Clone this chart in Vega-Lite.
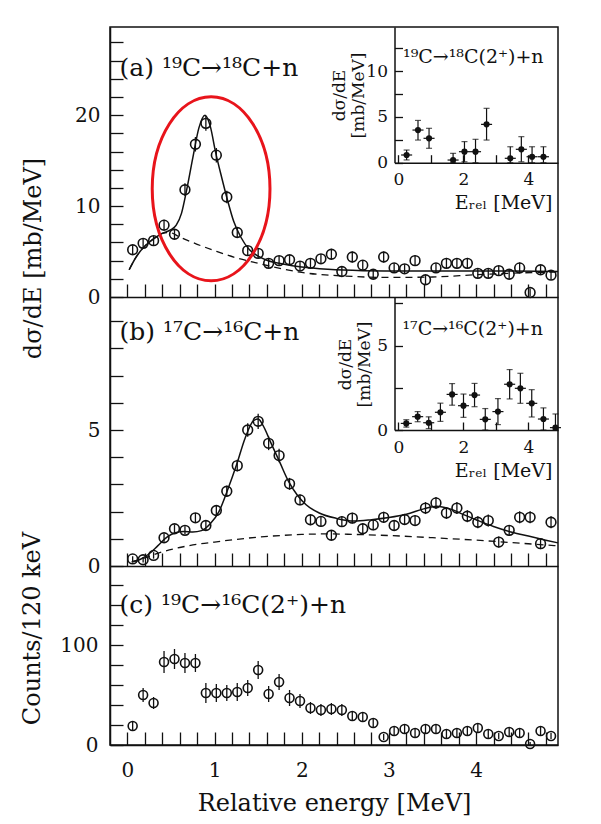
{
  "$schema": "https://vega.github.io/schema/vega-lite/v6.json",
  "autosize": {"type": "none"},
  "width": 448,
  "height": 718,
  "padding": {"left": 110, "top": 27, "right": 43, "bottom": 79},
  "background": "white",
  "config": {
    "view": {"stroke": "#111", "strokeWidth": 1.5},
    "axis": {"labelFont": "DejaVu Serif", "titleFont": "DejaVu Serif", "labelColor": "#111", "titleColor": "#111", "titleFontWeight": "normal", "domainColor": "#111", "tickColor": "#111", "domainWidth": 1.5, "tickWidth": 1.3, "grid": false, "labelOverlap": false, "labelFlush": false, "labelFontSize": 20, "titleFontSize": 24, "ticks": true, "tickCount": 100, "zindex": 1},
    "text": {"font": "DejaVu Serif", "color": "#111"}
  },
  "datasets": {
    "a_pts": [
      {"E":0.06,"v":5.2,"err":0.5},{"E":0.18,"v":5.9,"err":0.5},{"E":0.30,"v":6.2,"err":0.5},{"E":0.42,"v":7.9,"err":0.6},
      {"E":0.54,"v":6.9,"err":0.6},{"E":0.66,"v":11.8,"err":0.7},{"E":0.78,"v":16.8,"err":0.8},{"E":0.90,"v":19.1,"err":0.8},
      {"E":1.02,"v":15.6,"err":0.8},{"E":1.14,"v":11.0,"err":0.7},{"E":1.26,"v":7.1,"err":0.6},{"E":1.38,"v":5.1,"err":0.5},
      {"E":1.50,"v":4.8,"err":0.5},{"E":1.62,"v":3.7,"err":0.5},{"E":1.74,"v":4.0,"err":0.5},{"E":1.86,"v":4.1,"err":0.5},
      {"E":1.98,"v":3.4,"err":0.5},{"E":2.10,"v":3.7,"err":0.5},{"E":2.22,"v":4.2,"err":0.5},{"E":2.34,"v":4.7,"err":0.6},
      {"E":2.46,"v":2.8,"err":0.5},{"E":2.58,"v":4.4,"err":0.6},{"E":2.70,"v":3.5,"err":0.5},{"E":2.82,"v":2.5,"err":0.5},
      {"E":2.94,"v":4.4,"err":0.6},{"E":3.06,"v":3.2,"err":0.5},{"E":3.18,"v":3.1,"err":0.5},{"E":3.30,"v":4.0,"err":0.6},
      {"E":3.42,"v":1.9,"err":0.5},{"E":3.54,"v":3.2,"err":0.5},{"E":3.66,"v":3.7,"err":0.6},{"E":3.78,"v":3.7,"err":0.6},
      {"E":3.90,"v":3.7,"err":0.6},{"E":4.02,"v":2.6,"err":0.5},{"E":4.14,"v":2.6,"err":0.5},{"E":4.26,"v":2.9,"err":0.5},
      {"E":4.38,"v":2.5,"err":0.5},{"E":4.50,"v":3.2,"err":0.6},{"E":4.62,"v":0.5,"err":0.4},{"E":4.74,"v":3.0,"err":0.5},
      {"E":4.86,"v":2.4,"err":0.5}
    ],
    "a_fit": [
      {"E":0.02,"v":3.0},{"E":0.1,"v":4.4},{"E":0.2,"v":5.6},{"E":0.3,"v":6.4},{"E":0.4,"v":7.0},{"E":0.5,"v":7.4},
      {"E":0.56,"v":7.9},{"E":0.62,"v":9.2},{"E":0.68,"v":11.8},{"E":0.75,"v":15.3},{"E":0.82,"v":18.6},{"E":0.89,"v":20.0},
      {"E":0.95,"v":18.8},{"E":1.01,"v":16.0},{"E":1.08,"v":13.2},{"E":1.15,"v":10.6},{"E":1.22,"v":8.3},{"E":1.3,"v":6.6},
      {"E":1.4,"v":5.2},{"E":1.5,"v":4.5},{"E":1.6,"v":4.05},{"E":1.8,"v":3.6},{"E":2.0,"v":3.3},{"E":2.3,"v":3.05},
      {"E":2.7,"v":2.9},{"E":3.2,"v":2.85},{"E":3.8,"v":2.85},{"E":4.4,"v":2.85},{"E":4.94,"v":2.8}
    ],
    "a_dash": [
      {"E":0.02,"v":3.0},{"E":0.1,"v":4.4},{"E":0.2,"v":5.6},{"E":0.3,"v":6.4},{"E":0.4,"v":7.0},{"E":0.48,"v":7.1},
      {"E":0.6,"v":6.6},{"E":0.8,"v":5.8},{"E":1.0,"v":5.1},{"E":1.25,"v":4.3},{"E":1.5,"v":3.7},{"E":1.75,"v":3.15},
      {"E":2.0,"v":2.7},{"E":2.5,"v":2.3},{"E":3.0,"v":2.15},{"E":3.5,"v":2.2},{"E":4.0,"v":2.45},{"E":4.5,"v":2.65},{"E":4.94,"v":2.75}
    ],
    "a_ring": [{"E":0.96,"v":11.9}],
    "a_label": [{"E":-0.09,"v":25.2,"t":"(a) ¹⁹C→¹⁸C+n"}],
    "ai_pts": [
      {"E":0.25,"v":0.84,"lo":0.3,"hi":1.38,"xe":0.17},{"E":0.60,"v":3.56,"lo":2.47,"hi":4.61,"xe":0.17},
      {"E":0.94,"v":2.66,"lo":1.57,"hi":3.75,"xe":0.17},{"E":1.68,"v":0.29,"lo":0.0,"hi":1.02,"xe":0.17},
      {"E":2.03,"v":1.2,"lo":0.1,"hi":2.3,"xe":0.17},{"E":2.37,"v":1.2,"lo":0.0,"hi":2.55,"xe":0.17},
      {"E":2.71,"v":4.18,"lo":2.47,"hi":5.93,"xe":0.17},{"E":3.44,"v":0.48,"lo":0.0,"hi":1.74,"xe":0.17},
      {"E":3.78,"v":1.46,"lo":0.1,"hi":2.84,"xe":0.17},{"E":4.11,"v":0.65,"lo":0.0,"hi":1.74,"xe":0.17},
      {"E":4.46,"v":0.65,"lo":0.0,"hi":1.74,"xe":0.17}
    ],
    "ai_label": [{"E":0.14,"v":11.5,"t":"¹⁹C→¹⁸C(2⁺)+n"}],
    "b_pts": [
      {"E":0.06,"v":0.26,"err":0.1},{"E":0.18,"v":0.23,"err":0.1},{"E":0.30,"v":0.39,"err":0.12},{"E":0.42,"v":1.04,"err":0.15},
      {"E":0.54,"v":1.37,"err":0.15},{"E":0.66,"v":1.31,"err":0.15},{"E":0.78,"v":1.77,"err":0.18},{"E":0.90,"v":1.49,"err":0.18},
      {"E":1.02,"v":2.04,"err":0.2},{"E":1.14,"v":2.75,"err":0.2},{"E":1.26,"v":3.69,"err":0.22},{"E":1.38,"v":5.0,"err":0.25},
      {"E":1.50,"v":5.32,"err":0.28},{"E":1.62,"v":4.51,"err":0.25},{"E":1.74,"v":4.06,"err":0.25},{"E":1.86,"v":3.02,"err":0.22},
      {"E":1.98,"v":2.43,"err":0.2},{"E":2.10,"v":1.70,"err":0.2},{"E":2.22,"v":1.64,"err":0.2},{"E":2.34,"v":1.13,"err":0.18},
      {"E":2.46,"v":1.63,"err":0.2},{"E":2.58,"v":1.76,"err":0.2},{"E":2.70,"v":1.37,"err":0.2},{"E":2.82,"v":1.51,"err":0.2},
      {"E":2.94,"v":1.79,"err":0.2},{"E":3.06,"v":1.49,"err":0.2},{"E":3.18,"v":1.71,"err":0.2},{"E":3.30,"v":1.67,"err":0.2},
      {"E":3.42,"v":2.13,"err":0.22},{"E":3.54,"v":2.32,"err":0.22},{"E":3.66,"v":1.95,"err":0.22},{"E":3.78,"v":2.13,"err":0.22},
      {"E":3.90,"v":1.83,"err":0.22},{"E":4.02,"v":1.61,"err":0.22},{"E":4.14,"v":1.67,"err":0.22},{"E":4.26,"v":0.88,"err":0.2},
      {"E":4.38,"v":1.31,"err":0.2},{"E":4.50,"v":1.79,"err":0.22},{"E":4.62,"v":1.79,"err":0.22},{"E":4.74,"v":0.82,"err":0.2},
      {"E":4.86,"v":1.61,"err":0.22}
    ],
    "b_fit": [
      {"E":0.05,"v":0.15},{"E":0.15,"v":0.25},{"E":0.25,"v":0.45},{"E":0.35,"v":0.75},{"E":0.45,"v":1.05},{"E":0.55,"v":1.22},
      {"E":0.65,"v":1.27},{"E":0.75,"v":1.25},{"E":0.85,"v":1.3},{"E":0.95,"v":1.55},{"E":1.05,"v":2.0},{"E":1.15,"v":2.8},
      {"E":1.25,"v":3.7},{"E":1.35,"v":4.7},{"E":1.45,"v":5.35},{"E":1.5,"v":5.4},{"E":1.55,"v":5.2},{"E":1.65,"v":4.5},
      {"E":1.75,"v":3.8},{"E":1.85,"v":3.1},{"E":1.95,"v":2.6},{"E":2.05,"v":2.25},{"E":2.2,"v":1.95},{"E":2.4,"v":1.75},
      {"E":2.6,"v":1.65},{"E":2.8,"v":1.7},{"E":3.0,"v":1.78},{"E":3.2,"v":1.9},{"E":3.4,"v":2.1},{"E":3.55,"v":2.2},
      {"E":3.7,"v":2.1},{"E":3.85,"v":1.9},{"E":4.0,"v":1.7},{"E":4.2,"v":1.45},{"E":4.4,"v":1.25},{"E":4.6,"v":1.1},
      {"E":4.8,"v":0.95},{"E":4.94,"v":0.85}
    ],
    "b_dash": [
      {"E":0.05,"v":0.15},{"E":0.2,"v":0.3},{"E":0.4,"v":0.52},{"E":0.6,"v":0.68},{"E":0.8,"v":0.8},{"E":1.0,"v":0.88},
      {"E":1.25,"v":0.98},{"E":1.5,"v":1.06},{"E":1.75,"v":1.12},{"E":2.0,"v":1.16},{"E":2.3,"v":1.18},{"E":2.6,"v":1.16},
      {"E":3.0,"v":1.12},{"E":3.5,"v":1.04},{"E":4.0,"v":0.95},{"E":4.5,"v":0.84},{"E":4.94,"v":0.74}
    ],
    "b_label": [{"E":-0.09,"v":8.62,"t":"(b) ¹⁷C→¹⁶C+n"}],
    "bi_pts": [
      {"E":0.24,"v":0.39,"lo":0.17,"hi":0.61,"xe":0.17},{"E":0.59,"v":0.79,"lo":0.49,"hi":1.09,"xe":0.17},
      {"E":0.93,"v":0.43,"lo":0.08,"hi":0.78,"xe":0.17},{"E":1.29,"v":1.05,"lo":0.51,"hi":1.59,"xe":0.17},
      {"E":1.65,"v":2.11,"lo":1.47,"hi":2.75,"xe":0.17},{"E":2.0,"v":1.44,"lo":0.75,"hi":2.13,"xe":0.17},
      {"E":2.34,"v":2.07,"lo":1.38,"hi":2.76,"xe":0.17},{"E":2.67,"v":0.63,"lo":0.0,"hi":1.27,"xe":0.17},
      {"E":3.06,"v":1.09,"lo":0.32,"hi":1.86,"xe":0.17},{"E":3.42,"v":2.71,"lo":1.84,"hi":3.58,"xe":0.17},
      {"E":3.75,"v":2.47,"lo":1.58,"hi":3.36,"xe":0.17},{"E":4.10,"v":1.58,"lo":0.77,"hi":2.39,"xe":0.17},
      {"E":4.46,"v":0.65,"lo":0.0,"hi":1.31,"xe":0.17},{"E":4.83,"v":0.14,"lo":0.0,"hi":0.95,"xe":0.17}
    ],
    "bi_label": [{"E":0.12,"v":6.0,"t":"¹⁷C→¹⁶C(2⁺)+n"}],
    "c_pts": [
      {"E":0.06,"v":19,"err":5},{"E":0.18,"v":50,"err":7},{"E":0.30,"v":42,"err":6},{"E":0.42,"v":83,"err":11},
      {"E":0.54,"v":86,"err":10},{"E":0.66,"v":82,"err":10},{"E":0.78,"v":82,"err":9},{"E":0.90,"v":52,"err":10},
      {"E":1.02,"v":52,"err":9},{"E":1.14,"v":52,"err":8},{"E":1.26,"v":53,"err":9},{"E":1.38,"v":57,"err":8},
      {"E":1.50,"v":75,"err":9},{"E":1.62,"v":51,"err":8},{"E":1.74,"v":63,"err":8},{"E":1.86,"v":47,"err":8},
      {"E":1.98,"v":44,"err":7},{"E":2.10,"v":37,"err":6},{"E":2.22,"v":35,"err":6},{"E":2.34,"v":36,"err":6},
      {"E":2.46,"v":35,"err":6},{"E":2.58,"v":29,"err":5},{"E":2.70,"v":28,"err":5},{"E":2.82,"v":22,"err":5},
      {"E":2.94,"v":8,"err":3},{"E":3.06,"v":14,"err":4},{"E":3.18,"v":16,"err":4},{"E":3.30,"v":12,"err":4},
      {"E":3.42,"v":16,"err":4},{"E":3.54,"v":16,"err":4},{"E":3.66,"v":11,"err":4},{"E":3.78,"v":12,"err":4},
      {"E":3.90,"v":14,"err":4},{"E":4.02,"v":17,"err":5},{"E":4.14,"v":11,"err":4},{"E":4.26,"v":9,"err":3},
      {"E":4.38,"v":13,"err":4},{"E":4.50,"v":12,"err":4},{"E":4.62,"v":1,"err":2},{"E":4.74,"v":14,"err":4},
      {"E":4.86,"v":9,"err":3}
    ],
    "c_label": [{"E":-0.09,"v":140,"t":"(c) ¹⁹C→¹⁶C(2⁺)+n"}]
  },
  "layer": [
    {
      "layer": [
        {"data": {"name": "a_dash"}, "mark": {"type": "line", "strokeDash": [7, 5], "color": "#111", "strokeWidth": 1.3, "interpolate": "monotone"},
         "encoding": {
           "x": {"field": "E", "type": "quantitative", "title": null, "scale": {"domain": [-0.2, 4.94], "nice": false, "zero": false},
                 "axis": {"orient": "bottom", "offset": -448, "values": [0,0.2,0.4,0.6,0.8,1,1.2,1.4,1.6,1.8,2,2.2,2.4,2.6,2.8,3,3.2,3.4,3.6,3.8,4,4.2,4.4,4.6,4.8], "labels": false, "labelOverlap": false, "tickCount": 100,
                          "tickSize": -13, "encode": {"ticks": {"update": {"y2": {"signal": "datum.value % 1 === 0 ? -13 : -6"}}}}}},
           "y": {"field": "v", "type": "quantitative", "title": "dσ/dE [mb/MeV]", "scale": {"domain": [0, 29.7], "range": [270, 0], "nice": false, "zero": false},
                 "axis": {"orient": "left", "values": [0,2,4,6,8,10,12,14,16,18,20,22,24,26,28], "labelExpr": "datum.value % 10 === 0 ? format(datum.value, 'd') : ''", "labelPadding": 23, "labelOverlap": false, "tickCount": 100,
                          "tickSize": -13, "encode": {"ticks": {"update": {"x2": {"signal": "datum.value % 10 === 0 ? 13 : 6"}}}},
                          "titleX": -77, "titleY": 231, "titleAngle": 270, "titleAlign": "center", "titleBaseline": "middle"}}
         }},
        {"data": {"name": "a_fit"}, "mark": {"type": "line", "color": "#111", "strokeWidth": 1.5, "interpolate": "monotone"},
         "encoding": {
           "x": {"field": "E", "type": "quantitative", "title": null, "scale": {"domain": [-0.2, 4.94], "nice": false, "zero": false}},
           "y": {"field": "v", "type": "quantitative", "title": "dσ/dE [mb/MeV]", "scale": {"domain": [0, 29.7], "range": [270, 0], "nice": false, "zero": false}}
         }},
        {"data": {"name": "a_pts"}, "mark": {"type": "errorbar", "color": "#111", "thickness": 1.3},
         "encoding": {
           "x": {"field": "E", "type": "quantitative", "title": null, "scale": {"domain": [-0.2, 4.94], "nice": false, "zero": false}},
           "y": {"field": "v", "type": "quantitative", "title": "dσ/dE [mb/MeV]", "scale": {"domain": [0, 29.7], "range": [270, 0], "nice": false, "zero": false}},
           "yError": {"field": "err"}
         }},
        {"data": {"name": "a_pts"}, "mark": {"type": "point", "shape": "circle", "filled": false, "size": 95, "color": "#111", "strokeWidth": 1.6, "opacity": 1},
         "encoding": {
           "x": {"field": "E", "type": "quantitative", "title": null, "scale": {"domain": [-0.2, 4.94], "nice": false, "zero": false}},
           "y": {"field": "v", "type": "quantitative", "title": "dσ/dE [mb/MeV]", "scale": {"domain": [0, 29.7], "range": [270, 0], "nice": false, "zero": false}}
         }},
        {"data": {"name": "a_ring"}, "mark": {"type": "point", "shape": "M -0.64 0 A 0.64 1 0 1 0 0.64 0 A 0.64 1 0 1 0 -0.64 0 Z", "filled": false, "size": 33856, "color": "#e8141b", "strokeWidth": 3, "opacity": 1},
         "encoding": {
           "x": {"field": "E", "type": "quantitative", "title": null, "scale": {"domain": [-0.2, 4.94], "nice": false, "zero": false}},
           "y": {"field": "v", "type": "quantitative", "title": "dσ/dE [mb/MeV]", "scale": {"domain": [0, 29.7], "range": [270, 0], "nice": false, "zero": false}}
         }},
        {"data": {"name": "a_label"}, "mark": {"type": "text", "align": "left", "baseline": "middle", "fontSize": 25},
         "encoding": {
           "x": {"field": "E", "type": "quantitative", "title": null, "scale": {"domain": [-0.2, 4.94], "nice": false, "zero": false}},
           "y": {"field": "v", "type": "quantitative", "title": "dσ/dE [mb/MeV]", "scale": {"domain": [0, 29.7], "range": [270, 0], "nice": false, "zero": false}},
           "text": {"field": "t"}
         }}
      ]
    },
    {
      "layer": [
        {"data": {"name": "ai_pts"}, "mark": {"type": "errorbar", "color": "#111", "thickness": 1.2, "ticks": true, "size": 6},
         "encoding": {
           "x": {"field": "E", "type": "quantitative", "title": "Eᵣₑₗ [MeV]", "scale": {"domain": [-0.123, 4.908], "range": [284.5, 448], "nice": false, "zero": false},
                 "axis": {"orient": "bottom", "offset": -582.3, "values": [0,1,2,3,4], "labelExpr": "datum.value % 2 === 0 ? format(datum.value, 'd') : ''", "labelFontSize": 17, "labelPadding": 17, "labelOverlap": false, "tickCount": 100,
                          "tickSize": -8, "encode": {"ticks": {"update": {"y2": {"signal": "datum.value % 2 === 0 ? -8 : -5"}}}},
                          "titleFontSize": 19, "titleX": 442, "titleY": 46, "titleAlign": "right", "titleBaseline": "alphabetic"}},
           "y": {"field": "lo", "type": "quantitative", "title": ["dσ/dE", "[mb/MeV]"], "scale": {"domain": [0, 14.8], "range": [135.7, 0], "nice": false, "zero": false},
                 "axis": {"orient": "left", "offset": -284.5, "values": [0,2.5,5,7.5,10,12.5], "labelExpr": "datum.value % 5 === 0 ? format(datum.value, 'd') : ''", "labelFontSize": 17, "labelPadding": 15, "labelOverlap": false, "tickCount": 100,
                          "tickSize": -8, "encode": {"ticks": {"update": {"x2": {"signal": "datum.value % 5 === 0 ? 8 : 5"}}}},
                          "titleFontSize": 17, "titleLineHeight": 19, "titleX": -55, "titleY": 68, "titleAngle": 270, "titleAlign": "center", "titleBaseline": "middle"}},
           "y2": {"field": "hi"}
         }},
        {"data": {"name": "ai_pts"}, "mark": {"type": "errorbar", "color": "#111", "thickness": 1.2},
         "encoding": {
           "x": {"field": "E", "type": "quantitative", "title": "Eᵣₑₗ [MeV]", "scale": {"domain": [-0.123, 4.908], "range": [284.5, 448], "nice": false, "zero": false}},
           "xError": {"field": "xe"},
           "y": {"field": "v", "type": "quantitative", "title": ["dσ/dE", "[mb/MeV]"], "scale": {"domain": [0, 14.8], "range": [135.7, 0], "nice": false, "zero": false}}
         }},
        {"data": {"name": "ai_pts"}, "mark": {"type": "point", "shape": "circle", "filled": true, "size": 38, "color": "#111", "opacity": 1},
         "encoding": {
           "x": {"field": "E", "type": "quantitative", "title": "Eᵣₑₗ [MeV]", "scale": {"domain": [-0.123, 4.908], "range": [284.5, 448], "nice": false, "zero": false}},
           "y": {"field": "v", "type": "quantitative", "title": ["dσ/dE", "[mb/MeV]"], "scale": {"domain": [0, 14.8], "range": [135.7, 0], "nice": false, "zero": false}}
         }},
        {"data": {"name": "ai_label"}, "mark": {"type": "text", "align": "left", "baseline": "middle", "fontSize": 19},
         "encoding": {
           "x": {"field": "E", "type": "quantitative", "title": "Eᵣₑₗ [MeV]", "scale": {"domain": [-0.123, 4.908], "range": [284.5, 448], "nice": false, "zero": false}},
           "y": {"field": "v", "type": "quantitative", "title": ["dσ/dE", "[mb/MeV]"], "scale": {"domain": [0, 14.8], "range": [135.7, 0], "nice": false, "zero": false}},
           "text": {"field": "t"}
         }}
      ]
    },
    {
      "layer": [
        {"data": {"name": "b_dash"}, "mark": {"type": "line", "strokeDash": [7, 5], "color": "#111", "strokeWidth": 1.3, "interpolate": "monotone"},
         "encoding": {
           "x": {"field": "E", "type": "quantitative", "title": null, "scale": {"domain": [-0.2, 4.94], "nice": false, "zero": false},
                 "axis": {"orient": "bottom", "offset": -179, "values": [0,0.2,0.4,0.6,0.8,1,1.2,1.4,1.6,1.8,2,2.2,2.4,2.6,2.8,3,3.2,3.4,3.6,3.8,4,4.2,4.4,4.6,4.8], "labels": false, "labelOverlap": false, "tickCount": 100,
                          "tickSize": -13, "encode": {"ticks": {"update": {"y2": {"signal": "datum.value % 1 === 0 ? -13 : -6"}}}}}},
           "y": {"field": "v", "type": "quantitative", "title": null, "scale": {"domain": [0, 9.89], "range": [539, 270], "nice": false, "zero": false},
                 "axis": {"orient": "left", "values": [0,1,2,3,4,5,6,7,8,9], "labelExpr": "datum.value % 5 === 0 ? format(datum.value, 'd') : ''", "labelPadding": 23, "labelOverlap": false, "tickCount": 100,
                          "tickSize": -13, "encode": {"ticks": {"update": {"x2": {"signal": "datum.value % 5 === 0 ? 13 : 6"}}}}}}
         }},
        {"data": {"name": "b_fit"}, "mark": {"type": "line", "color": "#111", "strokeWidth": 1.5, "interpolate": "monotone"},
         "encoding": {
           "x": {"field": "E", "type": "quantitative", "title": null, "scale": {"domain": [-0.2, 4.94], "nice": false, "zero": false}},
           "y": {"field": "v", "type": "quantitative", "title": null, "scale": {"domain": [0, 9.89], "range": [539, 270], "nice": false, "zero": false}}
         }},
        {"data": {"name": "b_pts"}, "mark": {"type": "errorbar", "color": "#111", "thickness": 1.3},
         "encoding": {
           "x": {"field": "E", "type": "quantitative", "title": null, "scale": {"domain": [-0.2, 4.94], "nice": false, "zero": false}},
           "y": {"field": "v", "type": "quantitative", "title": null, "scale": {"domain": [0, 9.89], "range": [539, 270], "nice": false, "zero": false}},
           "yError": {"field": "err"}
         }},
        {"data": {"name": "b_pts"}, "mark": {"type": "point", "shape": "circle", "filled": false, "size": 95, "color": "#111", "strokeWidth": 1.6, "opacity": 1},
         "encoding": {
           "x": {"field": "E", "type": "quantitative", "title": null, "scale": {"domain": [-0.2, 4.94], "nice": false, "zero": false}},
           "y": {"field": "v", "type": "quantitative", "title": null, "scale": {"domain": [0, 9.89], "range": [539, 270], "nice": false, "zero": false}}
         }},
        {"data": {"name": "b_label"}, "mark": {"type": "text", "align": "left", "baseline": "middle", "fontSize": 25},
         "encoding": {
           "x": {"field": "E", "type": "quantitative", "title": null, "scale": {"domain": [-0.2, 4.94], "nice": false, "zero": false}},
           "y": {"field": "v", "type": "quantitative", "title": null, "scale": {"domain": [0, 9.89], "range": [539, 270], "nice": false, "zero": false}},
           "text": {"field": "t"}
         }}
      ]
    },
    {
      "layer": [
        {"data": {"name": "bi_pts"}, "mark": {"type": "errorbar", "color": "#111", "thickness": 1.2, "ticks": true, "size": 6},
         "encoding": {
           "x": {"field": "E", "type": "quantitative", "title": "Eᵣₑₗ [MeV]", "scale": {"domain": [-0.123, 4.908], "range": [284.5, 448], "nice": false, "zero": false},
                 "axis": {"orient": "bottom", "offset": -315, "values": [0,1,2,3,4], "labelExpr": "datum.value % 2 === 0 ? format(datum.value, 'd') : ''", "labelFontSize": 17, "labelPadding": 17, "labelOverlap": false, "tickCount": 100,
                          "tickSize": -8, "encode": {"ticks": {"update": {"y2": {"signal": "datum.value % 2 === 0 ? -8 : -5"}}}},
                          "titleFontSize": 19, "titleX": 442, "titleY": 46, "titleAlign": "right", "titleBaseline": "alphabetic"}},
           "y": {"field": "lo", "type": "quantitative", "title": ["dσ/dE", "[mb/MeV]"], "scale": {"domain": [0, 7.88], "range": [403, 270], "nice": false, "zero": false},
                 "axis": {"orient": "left", "offset": -284.5, "values": [0,2.5,5,7.5], "labelExpr": "datum.value % 5 === 0 ? format(datum.value, 'd') : ''", "labelFontSize": 17, "labelPadding": 15, "labelOverlap": false, "tickCount": 100,
                          "tickSize": -8, "encode": {"ticks": {"update": {"x2": {"signal": "datum.value % 5 === 0 ? 8 : 5"}}}},
                          "titleFontSize": 17, "titleLineHeight": 19, "titleX": -49, "titleY": 337, "titleAngle": 270, "titleAlign": "center", "titleBaseline": "middle"}},
           "y2": {"field": "hi"}
         }},
        {"data": {"name": "bi_pts"}, "mark": {"type": "errorbar", "color": "#111", "thickness": 1.2},
         "encoding": {
           "x": {"field": "E", "type": "quantitative", "title": "Eᵣₑₗ [MeV]", "scale": {"domain": [-0.123, 4.908], "range": [284.5, 448], "nice": false, "zero": false}},
           "xError": {"field": "xe"},
           "y": {"field": "v", "type": "quantitative", "title": ["dσ/dE", "[mb/MeV]"], "scale": {"domain": [0, 7.88], "range": [403, 270], "nice": false, "zero": false}}
         }},
        {"data": {"name": "bi_pts"}, "mark": {"type": "point", "shape": "circle", "filled": true, "size": 38, "color": "#111", "opacity": 1},
         "encoding": {
           "x": {"field": "E", "type": "quantitative", "title": "Eᵣₑₗ [MeV]", "scale": {"domain": [-0.123, 4.908], "range": [284.5, 448], "nice": false, "zero": false}},
           "y": {"field": "v", "type": "quantitative", "title": ["dσ/dE", "[mb/MeV]"], "scale": {"domain": [0, 7.88], "range": [403, 270], "nice": false, "zero": false}}
         }},
        {"data": {"name": "bi_label"}, "mark": {"type": "text", "align": "left", "baseline": "middle", "fontSize": 19},
         "encoding": {
           "x": {"field": "E", "type": "quantitative", "title": "Eᵣₑₗ [MeV]", "scale": {"domain": [-0.123, 4.908], "range": [284.5, 448], "nice": false, "zero": false}},
           "y": {"field": "v", "type": "quantitative", "title": ["dσ/dE", "[mb/MeV]"], "scale": {"domain": [0, 7.88], "range": [403, 270], "nice": false, "zero": false}},
           "text": {"field": "t"}
         }}
      ]
    },
    {
      "layer": [
        {"data": {"name": "c_pts"}, "mark": {"type": "errorbar", "color": "#111", "thickness": 1.3},
         "encoding": {
           "x": {"field": "E", "type": "quantitative", "title": "Relative energy [MeV]", "scale": {"domain": [-0.2, 4.94], "nice": false, "zero": false},
                 "axis": {"orient": "bottom", "offset": 0, "values": [0,0.2,0.4,0.6,0.8,1,1.2,1.4,1.6,1.8,2,2.2,2.4,2.6,2.8,3,3.2,3.4,3.6,3.8,4,4.2,4.4,4.6,4.8], "labelExpr": "datum.value % 1 === 0 ? format(datum.value, 'd') : ''", "labelPadding": 28, "labelOverlap": false, "tickCount": 100,
                          "tickSize": -13, "encode": {"ticks": {"update": {"y2": {"signal": "datum.value % 1 === 0 ? -13 : -6"}}}},
                          "titleY": 58, "titleBaseline": "middle"}},
           "y": {"field": "v", "type": "quantitative", "title": "Counts/120 keV", "scale": {"domain": [0, 179], "range": [718, 539], "nice": false, "zero": false},
                 "axis": {"orient": "left", "values": [0,20,40,60,80,100,120,140,160], "labelExpr": "datum.value % 100 === 0 ? format(datum.value, 'd') : ''", "labelPadding": 25, "labelOverlap": false, "tickCount": 100,
                          "tickSize": -13, "encode": {"ticks": {"update": {"x2": {"signal": "datum.value % 100 === 0 ? 13 : 6"}}}},
                          "titleX": -78, "titleY": 601, "titleAngle": 270, "titleAlign": "center", "titleBaseline": "middle"}},
           "yError": {"field": "err"}
         }},
        {"data": {"name": "c_pts"}, "mark": {"type": "point", "shape": "circle", "filled": false, "size": 80, "color": "#111", "strokeWidth": 1.6, "opacity": 1},
         "encoding": {
           "x": {"field": "E", "type": "quantitative", "title": "Relative energy [MeV]", "scale": {"domain": [-0.2, 4.94], "nice": false, "zero": false}},
           "y": {"field": "v", "type": "quantitative", "title": "Counts/120 keV", "scale": {"domain": [0, 179], "range": [718, 539], "nice": false, "zero": false}}
         }},
        {"data": {"name": "c_label"}, "mark": {"type": "text", "align": "left", "baseline": "middle", "fontSize": 25},
         "encoding": {
           "x": {"field": "E", "type": "quantitative", "title": "Relative energy [MeV]", "scale": {"domain": [-0.2, 4.94], "nice": false, "zero": false}},
           "y": {"field": "v", "type": "quantitative", "title": "Counts/120 keV", "scale": {"domain": [0, 179], "range": [718, 539], "nice": false, "zero": false}},
           "text": {"field": "t"}
         }}
      ]
    }
  ],
  "resolve": {"scale": {"x": "independent", "y": "independent"}, "axis": {"x": "independent", "y": "independent"}}
}
